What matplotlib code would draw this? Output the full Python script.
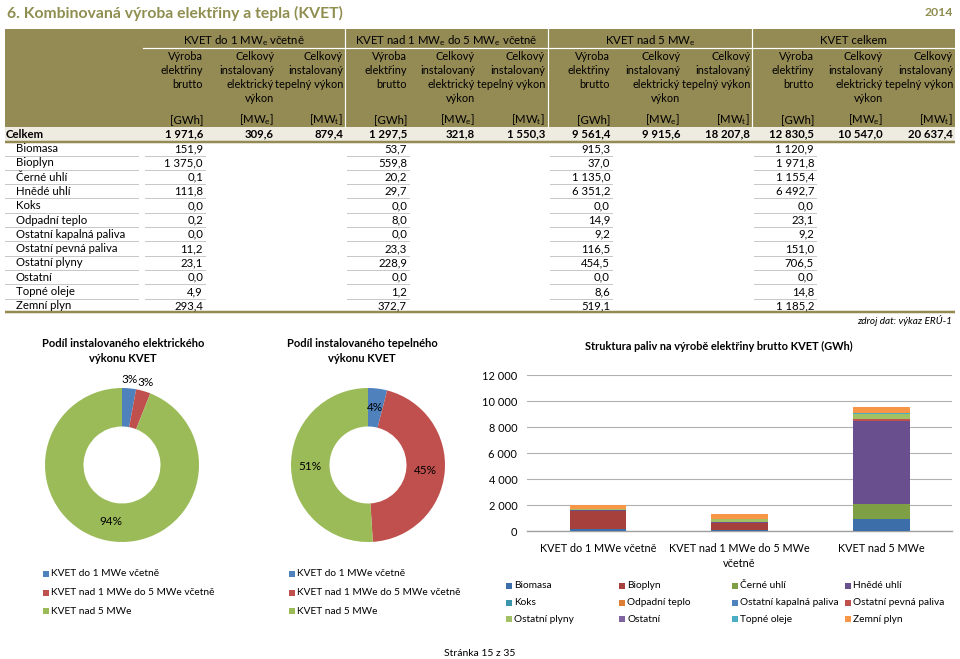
import matplotlib
matplotlib.use("Agg")
import matplotlib.pyplot as plt
from matplotlib.patches import Rectangle
import numpy as np

plt.rcParams['font.family'] = ['Lato', 'DejaVu Sans']
plt.rcParams['mathtext.fontset'] = 'custom'
plt.rcParams['mathtext.rm'] = 'Lato'
plt.rcParams['mathtext.it'] = 'Lato:italic'
plt.rcParams['mathtext.bf'] = 'Lato:bold'

# ---------------- data ----------------
fuels = ["Biomasa", "Bioplyn", "Černé uhlí", "Hnědé uhlí", "Koks", "Odpadní teplo",
         "Ostatní kapalná paliva", "Ostatní pevná paliva", "Ostatní plyny", "Ostatní",
         "Topné oleje", "Zemní plyn"]
gwh_do1 = [151.9, 1375.0, 0.1, 111.8, 0.0, 0.2, 0.0, 11.2, 23.1, 0.0, 4.9, 293.4]
gwh_1_5 = [53.7, 559.8, 20.2, 29.7, 0.0, 8.0, 0.0, 23.3, 228.9, 0.0, 1.2, 372.7]
gwh_nad5 = [915.3, 37.0, 1135.0, 6351.2, 0.0, 14.9, 9.2, 116.5, 454.5, 0.0, 8.6, 519.1]
gwh_total = [1120.9, 1971.8, 1155.4, 6492.7, 0.0, 23.1, 9.2, 151.0, 706.5, 0.0, 14.8, 1185.2]
celkem = [1971.6, 309.6, 879.4, 1297.5, 321.8, 1550.3, 9561.4, 9915.6, 18207.8,
          12830.5, 10547.0, 20637.4]

group_heads = ["KVET do 1 MW$_\\mathregular{e}$ včetně",
               "KVET nad 1 MW$_\\mathregular{e}$ do 5 MW$_\\mathregular{e}$ včetně",
               "KVET nad 5 MW$_\\mathregular{e}$", "KVET celkem"]
col_heads = [["Výroba", "elektřiny", "brutto"],
             ["Celkový", "instalovaný", "elektrický", "výkon"],
             ["Celkový", "instalovaný", "tepelný výkon"]]
units = ["[GWh]", "[MW$_\\mathregular{e}$]", "[MW$_\\mathregular{t}$]"]

categories = ["KVET do 1 MWe včetně", "KVET nad 1 MWe do 5 MWe včetně", "KVET nad 5 MWe"]
bar_labels = ["KVET do 1 MWe včetně", "KVET nad 1 MWe do 5 MWe\nvčetně", "KVET nad 5 MWe"]
el_power = [309.6, 321.8, 9915.6]
th_share = [4, 45, 51]

pie_colors = ["#4F81BD", "#C0504D", "#9BBB59"]
fuel_colors = ["#3C6EAA", "#A5403D", "#7F9F45", "#6A4F8E", "#3D95AC", "#DE7D34",
               "#4F81BD", "#C0504D", "#A2C165", "#8064A2", "#4BACC6", "#F79646"]
y_ticks = [0, 2000, 4000, 6000, 8000, 10000, 12000]

OLIVE = "#948A54"
TITLE_C = "#8F8E50"
CELK_BG = "#EEECE1"

def fmt(v):
    return f"{v:,.1f}".replace(",", " ").replace(".", ",")

W, H = 960, 659
fig = plt.figure(figsize=(9.6, 6.59), dpi=100)
ov = fig.add_axes([0, 0, 1, 1])
ov.set_xlim(0, W); ov.set_ylim(H, 0); ov.axis('off')

PX = 0.72  # points per pixel

# titles
ov.text(7, 13, "6. Kombinovaná výroba elektřiny a tepla (KVET)", fontsize=11.3,
        fontweight='bold', color=TITLE_C, ha='left', va='center')
ov.text(953, 13, "2014", fontsize=8.8, fontweight='bold', color=TITLE_C,
        ha='right', va='center')

# table header
ov.add_patch(Rectangle((5, 29), 950, 98, color=OLIVE, lw=0))
ov.add_patch(Rectangle((5, 127), 950, 14.5, color=CELK_BG, lw=0))
ov.plot([143, 955], [48, 48], color='white', lw=1.2 * PX)
group_edges = [143, 345, 548, 752, 955]
for xe in group_edges[1:-1]:
    ov.plot([xe, xe], [29, 127], color='white', lw=1.2 * PX)
col_right = [203, 274, 343, 407, 475, 545, 610, 680, 750, 814, 883, 953]
fs = 8.2
fsh = 7.9
for g in range(4):
    ov.text((group_edges[g] + group_edges[g + 1]) / 2, 41, group_heads[g], fontsize=fs,
            ha='center', va='center')
    for c in range(3):
        xr = col_right[g * 3 + c]
        for k, line in enumerate(col_heads[c]):
            ov.text(xr, 57 + 14 * k, line, fontsize=fsh, ha='right', va='center')
        ov.text(xr, 120, units[c], fontsize=fs, ha='right', va='center')

# Celkem row
ov.text(6, 134, "Celkem", fontsize=fs, fontweight='bold', ha='left', va='center')
for j, v in enumerate(celkem):
    ov.text(col_right[j], 134, fmt(v), fontsize=fs, fontweight='bold', ha='right', va='center')
ov.plot([5, 955], [142, 142], color=OLIVE, lw=2.5 * PX, solid_capstyle='butt')

# fuel rows
gwh_cols = [gwh_do1, gwh_1_5, gwh_nad5, gwh_total]
row_h = 14.3
for i, f in enumerate(fuels):
    yc = 148.5 + i * row_h
    ov.text(16, yc, f, fontsize=fs, ha='left', va='center')
    for g in range(4):
        ov.text(col_right[g * 3], yc, fmt(gwh_cols[g][i]), fontsize=fs,
                ha='right', va='center')
    if i < len(fuels) - 1:
        yl = yc + 7
        ov.plot([5, 138], [yl, yl], color='#C8C8C8', lw=1.0 * PX)
        for g in range(4):
            ov.plot([group_edges[g] + 2, col_right[g * 3] + 2], [yl, yl],
                    color='#C8C8C8', lw=1.0 * PX)
ov.plot([5, 955], [312, 312], color=OLIVE, lw=2.5 * PX, solid_capstyle='butt')
ov.text(952, 320, "zdroj dat: výkaz ERÚ-1", fontsize=7.2, style='italic',
        ha='right', va='center')

# footer
ov.text(480, 654, "Stránka 15 z 35", fontsize=7.5, ha='center', va='center')

# ---------------- donuts ----------------
R = 77.0
def donut(cx, cy, values, title, title_x, outside_small):
    box = 2.4 * R
    ax = fig.add_axes([(cx - box / 2) / W, 1 - (cy + box / 2) / H, box / W, box / H])
    ax.pie(values, colors=pie_colors, startangle=90, counterclock=False, radius=1,
           wedgeprops=dict(width=0.5, linewidth=0))
    ax.set_xlim(-1.2, 1.2); ax.set_ylim(-1.2, 1.2); ax.set_aspect('equal')
    ax.axis('off')
    tot = float(sum(values))
    cum = 0.0
    for v in values:
        frac = v / tot
        mid = np.deg2rad(90 - (cum + frac / 2) * 360)
        cum += frac
        r = 1.11 if (outside_small and frac < 0.1) else 0.75
        ax.text(r * np.cos(mid), r * np.sin(mid), f"{round(frac * 100)}%",
                fontsize=8.5, ha='center', va='center')
    ov.text(title_x, 351, title, fontsize=8.0, fontweight='bold', ha='center',
            va='center', linespacing=1.4)
    lx = cx - 76
    for k, cat in enumerate(categories):
        yy = 574 + k * 18.6
        ov.add_patch(Rectangle((lx - 3, yy - 3), 6, 6, color=pie_colors[k], lw=0))
        ov.text(lx + 5, yy, cat, fontsize=7.3, ha='left', va='center')

donut(122, 465, el_power, "Podíl instalovaného elektrického\nvýkonu KVET", 123, True)
donut(368, 465, th_share, "Podíl instalovaného tepelného\nvýkonu KVET", 362, False)

# ---------------- stacked bar ----------------
bx0, bx1, by_top, by_bot = 527, 952, 375, 531
axb = fig.add_axes([bx0 / W, 1 - by_bot / H, (bx1 - bx0) / W, (by_bot - by_top) / H])
x = np.arange(len(categories))
bottom = np.zeros(len(categories))
for i, f in enumerate(fuels):
    vals = np.array([gwh_do1[i], gwh_1_5[i], gwh_nad5[i]])
    axb.bar(x, vals, bottom=bottom, width=0.4, color=fuel_colors[i], lw=0, zorder=3)
    bottom += vals
axb.set_xlim(-0.5, 2.5)
axb.set_ylim(0, 12000)
axb.set_yticks(y_ticks)
axb.set_yticklabels([f"{t:,}".replace(",", " ") for t in y_ticks], fontsize=7.9)
axb.set_xticks(x)
axb.set_xticklabels(bar_labels, fontsize=7.8, linespacing=1.35)
axb.tick_params(axis='both', length=0)
axb.tick_params(axis='y', pad=7)
axb.tick_params(axis='x', pad=9)
for s in ['top', 'right', 'left']:
    axb.spines[s].set_visible(False)
axb.spines['bottom'].set_color('#A0A0A0')
axb.spines['bottom'].set_linewidth(1.0)
axb.grid(axis='y', color='#B0B0B0', lw=0.8, zorder=0)
axb.set_axisbelow(True)
ov.text(719, 346, "Struktura paliv na výrobě elektřiny brutto KVET (GWh)", fontsize=7.9,
        fontweight='bold', ha='center', va='center')
leg_x = [509, 622, 735, 848]
for i, f in enumerate(fuels):
    r, c = divmod(i, 4)
    xx, yy = leg_x[c], 586 + r * 16.6
    ov.add_patch(Rectangle((xx - 3, yy - 3), 6, 6, color=fuel_colors[i], lw=0))
    ov.text(xx + 5, yy, f, fontsize=7.3, ha='left', va='center')

fig.savefig("out.png", dpi=100)
